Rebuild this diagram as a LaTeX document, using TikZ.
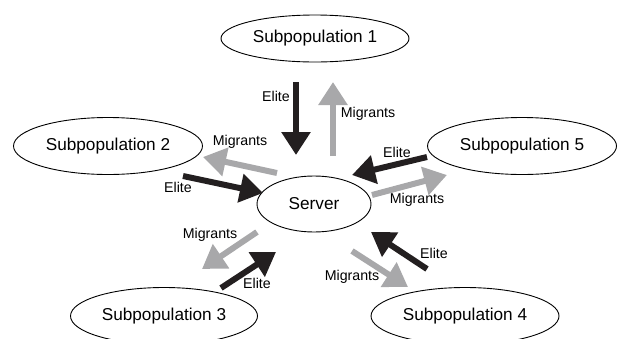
\documentclass[tikz,border=0pt]{standalone}
\usepackage{fontspec}
\setmainfont{Liberation Sans}
\usepackage{tikz}
\usetikzlibrary{arrows.meta,shapes.geometric}

\definecolor{elitecol}{RGB}{35,31,32}
\definecolor{migrcol}{RGB}{168,168,170}

\begin{document}
\begin{tikzpicture}[line cap=round,line join=round,x=1pt,y=-1pt,
  subpop/.style={draw,ellipse,line width=0.9pt,minimum width=188pt,minimum height=56pt,inner sep=0pt,font=\fontsize{17.2}{20}\selectfont},
  elite/.style={draw=elitecol,line width=6pt,line cap=butt,-{Triangle[length=23pt,width=28pt]}},
  migr/.style={draw=migrcol,line width=6pt,line cap=butt,-{Triangle[length=23pt,width=28pt]}},
  lbl/.style={font=\fontsize{14.2}{16}\selectfont,inner sep=0pt}]
\useasboundingbox (0,0) rectangle (619,338);
\clip (0,0) rectangle (619,338);
% ellipses
\node[subpop,minimum height=47pt] (sub1) at (315,38.5) {Subpopulation 1};
\node[subpop,minimum width=189pt,minimum height=57pt] (sub2) at (108,146) {Subpopulation 2};
\node[subpop,minimum width=187pt,minimum height=57pt] (sub3) at (164,316) {Subpopulation 3};
\node[subpop,minimum height=57pt] (sub4) at (465,316) {Subpopulation 4};
\node[subpop,minimum width=189pt,minimum height=57pt] (sub5) at (522,146) {Subpopulation 5};
\node[subpop,minimum width=114pt] (server) at (314,204) {Server};
% arrow ends
\coordinate (e1a) at (296,82);  \coordinate (e1b) at (296,155);
\coordinate (m1a) at (333,156); \coordinate (m1b) at (333,82);
\coordinate (m2a) at (277,173); \coordinate (m2b) at (203,157);
\coordinate (e2a) at (183,176); \coordinate (e2b) at (263,193);
\coordinate (e5a) at (427,157); \coordinate (e5b) at (352,175);
\coordinate (m5a) at (372,195); \coordinate (m5b) at (447,175);
\coordinate (m3a) at (257,232); \coordinate (m3b) at (202,269);
\coordinate (e3a) at (221,288); \coordinate (e3b) at (276,252);
\coordinate (m4a) at (352,251); \coordinate (m4b) at (408,287);
\coordinate (e4a) at (427,269); \coordinate (e4b) at (371,232);
% arrows
\draw[elite] (e1a) -- (e1b);
\draw[migr] (m1a) -- (m1b);
\draw[migr] (m2a) -- (m2b);
\draw[elite] (e2a) -- (e2b);
\draw[elite] (e5a) -- (e5b);
\draw[migr] (m5a) -- (m5b);
\draw[migr] (m3a) -- (m3b);
\draw[elite] (e3a) -- (e3b);
\draw[migr] (m4a) -- (m4b);
\draw[elite] (e4a) -- (e4b);
% labels
\node[lbl] (le1) at (276,96) {Elite};
\node[lbl] (lm1) at (368,114) {Migrants};
\node[lbl] (lm2) at (240,142) {Migrants};
\node[lbl] (le2) at (178,187) {Elite};
\node[lbl] (le5) at (397,152) {Elite};
\node[lbl] (lm5) at (417,200) {Migrants};
\node[lbl] (lm3) at (210,235) {Migrants};
\node[lbl] (le3) at (257,283) {Elite};
\node[lbl] (lm4) at (352,277) {Migrants};
\node[lbl] (le4) at (434,253) {Elite};
\end{tikzpicture}
\end{document}
